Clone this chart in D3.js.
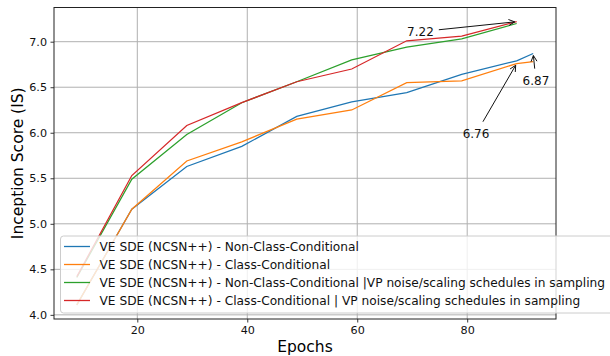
<!DOCTYPE html>
<html>
<head>
<meta charset="utf-8">
<script src="https://cdn.jsdelivr.net/npm/d3@7"></script>
<style>
  body { margin: 0; background: #fff; }
  text { font-family: "DejaVu Sans", sans-serif; }
</style>
</head>
<body>
<svg id="chart" width="610" height="356"></svg>
<script>
// data
var epochsLong = [9, 19, 29, 39, 49, 59, 69, 79, 89, 92];
var epochsShort = [9, 19, 29, 39, 49, 59, 69, 79, 89];

var isNonCond = [4.11, 5.16, 5.63, 5.85, 6.18, 6.34, 6.44, 6.64, 6.79, 6.87];
var isCond = [4.11, 5.16, 5.69, 5.90, 6.15, 6.25, 6.55, 6.57, 6.76, 6.78];
var isNonCondVP = [4.41, 5.49, 5.98, 6.33, 6.56, 6.80, 6.94, 7.03, 7.20];
var isCondVP = [4.42, 5.53, 6.08, 6.33, 6.56, 6.70, 7.01, 7.06, 7.22];

var seriesNames = [
  "VE SDE (NCSN++) - Non-Class-Conditional",
  "VE SDE (NCSN++) - Class-Conditional",
  "VE SDE (NCSN++) - Non-Class-Conditional |VP noise/scaling schedules in sampling",
  "VE SDE (NCSN++) - Class-Conditional | VP noise/scaling schedules in sampling"
];
var seriesColors = ["#1f77b4", "#ff7f0e", "#2ca02c", "#d62728"];

var xTicks = [20, 40, 60, 80];
var yTicks = [4.0, 4.5, 5.0, 5.5, 6.0, 6.5, 7.0];

// annotations: label, point (epoch, IS), text centre (epoch, IS)
var annoLabels = ["7.22", "6.76", "6.87"];
var annoPoints = [[89, 7.22], [89, 6.76], [92, 6.87]];
var annoText = [[71.5, 7.11], [81.6, 5.99], [92.5, 6.57]];

var series = [
  {x: epochsLong, y: isNonCond},
  {x: epochsLong, y: isCond},
  {x: epochsShort, y: isNonCondVP},
  {x: epochsShort, y: isCondVP}
];

var svg = d3.select("#chart");
var pLeft = 54, pRight = 556, pTop = 7.5, pBottom = 319;

// matplotlib-like 5% margins
var allX = d3.merge(series.map(s => s.x)), allY = d3.merge(series.map(s => s.y));
var xe = d3.extent(allX), ye = d3.extent(allY);
var xm = (xe[1] - xe[0]) * 0.05, ym = (ye[1] - ye[0]) * 0.05;

var x = d3.scaleLinear().domain([xe[0] - xm, xe[1] + xm]).range([pLeft, pRight]);
var y = d3.scaleLinear().domain([ye[0] - ym, ye[1] + ym]).range([pBottom, pTop]);

// grid
var grid = svg.append("g");
grid.selectAll(".gx").data(xTicks).enter().append("line")
  .attr("x1", d => x(d)).attr("x2", d => x(d))
  .attr("y1", pTop).attr("y2", pBottom)
  .attr("stroke", "#b0b0b0").attr("stroke-width", 1);
grid.selectAll(".gy").data(yTicks).enter().append("line")
  .attr("y1", d => y(d)).attr("y2", d => y(d))
  .attr("x1", pLeft).attr("x2", pRight)
  .attr("stroke", "#b0b0b0").attr("stroke-width", 1);

// lines
var line = d3.line().x(d => x(d[0])).y(d => y(d[1]));
svg.append("g").selectAll("path")
  .data(series)
  .enter().append("path")
  .attr("d", s => line(d3.zip(s.x, s.y)))
  .attr("fill", "none")
  .attr("stroke", (s, i) => seriesColors[i])
  .attr("stroke-width", 1.25);

// spines
svg.append("rect")
  .attr("x", pLeft).attr("y", pTop)
  .attr("width", pRight - pLeft).attr("height", pBottom - pTop)
  .attr("fill", "none").attr("stroke", "#222").attr("stroke-width", 1);

// axes
var xAxis = svg.append("g")
  .attr("transform", "translate(0," + pBottom + ")")
  .call(d3.axisBottom(x).tickValues(xTicks).tickSize(3.5).tickPadding(3.5));
var yAxis = svg.append("g")
  .attr("transform", "translate(" + pLeft + ",0)")
  .call(d3.axisLeft(y).tickValues(yTicks).tickFormat(d3.format(".1f")).tickSize(3.5).tickPadding(3.5));
[xAxis, yAxis].forEach(a => {
  a.select(".domain").remove();
  a.selectAll("line").attr("stroke", "#222").attr("stroke-width", 0.9);
  a.selectAll("text").attr("font-family", "DejaVu Sans").attr("font-size", 11.2).attr("fill", "#111");
});

svg.append("text")
  .attr("x", (pLeft + pRight) / 2).attr("y", 352)
  .attr("text-anchor", "middle").attr("font-size", 15.5)
  .text("Epochs");
svg.append("text")
  .attr("transform", "translate(23," + ((pTop + pBottom) / 2) + ") rotate(-90)")
  .attr("text-anchor", "middle").attr("font-size", 15.5)
  .text("Inception Score (IS)");

// annotations with "->" arrows
var anno = svg.append("g");
annoLabels.forEach(function(label, i) {
  var cx = x(annoText[i][0]), cy = y(annoText[i][1]);
  var t = anno.append("text")
    .attr("x", cx).attr("y", cy)
    .attr("text-anchor", "middle").attr("dominant-baseline", "central")
    .attr("font-size", 12).attr("fill", "#111")
    .text(label);
  var w = t.node().getComputedTextLength();
  var hw = w / 2 + 3, hh = 12 * 0.6 + 3;
  var px = x(annoPoints[i][0]), py = y(annoPoints[i][1]);
  var dx = px - cx, dy = py - cy, len = Math.hypot(dx, dy);
  var ux = dx / len, uy = dy / len;
  var s = Math.min(hw / Math.abs(dx || 1e-9), hh / Math.abs(dy || 1e-9));
  var sx = cx + dx * s + ux * 2, sy = cy + dy * s + uy * 2;
  var ex = px - ux * 2, ey = py - uy * 2;
  anno.append("line")
    .attr("x1", sx).attr("y1", sy).attr("x2", ex).attr("y2", ey)
    .attr("stroke", "#111").attr("stroke-width", 1);
  var hl = 6, hwid = 3;
  var p1 = [ex - ux * hl - uy * hwid, ey - uy * hl + ux * hwid];
  var p2 = [ex - ux * hl + uy * hwid, ey - uy * hl - ux * hwid];
  anno.append("path")
    .attr("d", "M" + p1 + "L" + [ex, ey] + "L" + p2)
    .attr("fill", "none").attr("stroke", "#111").attr("stroke-width", 1);
});

// legend
var leg = svg.append("g");
leg.append("rect")
  .attr("x", 60.5).attr("y", 236).attr("rx", 3)
  .attr("width", 570).attr("height", 77)
  .attr("fill", "#fff").attr("fill-opacity", 0.8)
  .attr("stroke", "#ccc").attr("stroke-width", 1);
seriesNames.forEach(function(name, i) {
  var ry = 246.5 + i * 18;
  leg.append("line")
    .attr("x1", 64).attr("x2", 90).attr("y1", ry).attr("y2", ry)
    .attr("stroke", seriesColors[i]).attr("stroke-width", 1.3);
  leg.append("text")
    .attr("x", 99.5).attr("y", ry)
    .attr("dominant-baseline", "central")
    .attr("font-size", 12.2).attr("fill", "#111")
    .text(name);
});
</script>
</body>
</html>
